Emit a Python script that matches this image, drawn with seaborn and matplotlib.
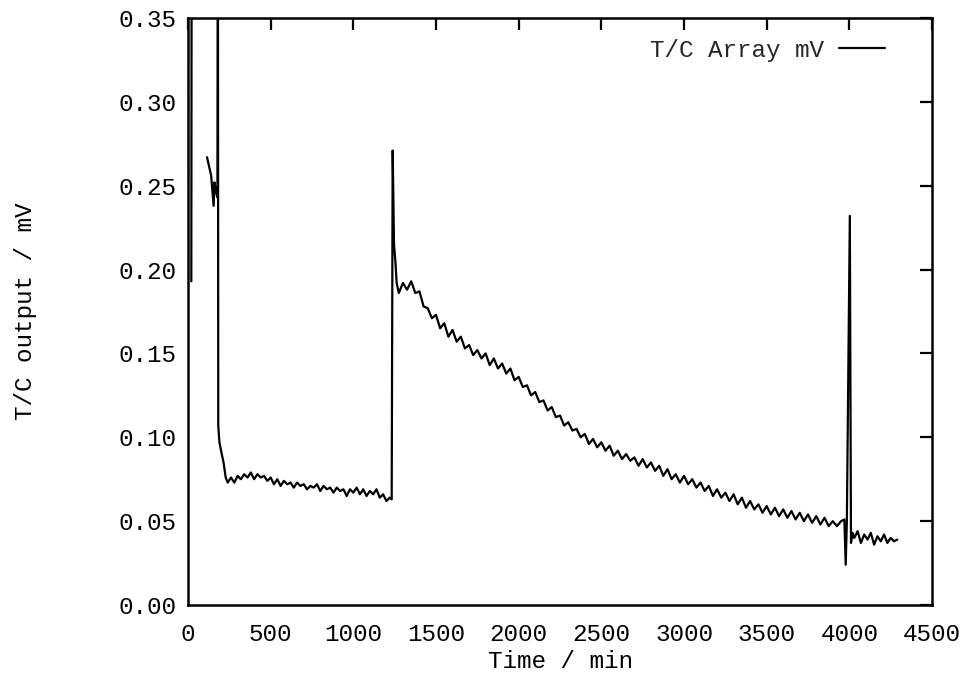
import numpy as np
import pandas as pd
import matplotlib
matplotlib.use("Agg")
import matplotlib.pyplot as plt
import seaborn as sns

sns.set_theme(style="white")
plt.rcParams['font.family'] = ['Liberation Mono', 'DejaVu Sans Mono']

# ---- data ----
# initial off-scale spike (overlapping the left axis)
t_start = [20, 22]
v_start = [0.193, 0.40]

# main record
t_main = [115, 140, 155, 160, 170, 178, 181, 183, 190, 200, 215, 228,
          240, 260, 280, 300, 320, 340, 360, 380, 400, 420, 440, 460, 480, 500,
          520, 540, 560, 580, 600, 620, 640, 660, 680, 700, 720, 740, 760, 780,
          800, 820, 840, 860, 880, 900, 920, 940, 960, 980, 1000, 1020, 1040,
          1060, 1080, 1100, 1120, 1140, 1160, 1180, 1200, 1220,
          1232, 1238, 1246, 1255, 1262,
          1275, 1300, 1325, 1350, 1375, 1400, 1425, 1450, 1475, 1500, 1525, 1550,
          1575, 1600, 1625, 1650, 1675, 1700, 1725, 1750, 1775, 1800, 1825, 1850,
          1875, 1900, 1925, 1950, 1975, 2000, 2025, 2050, 2075, 2100, 2125, 2150,
          2175, 2200, 2225, 2250, 2275, 2300, 2325, 2350, 2375, 2400, 2425, 2450,
          2475, 2500, 2525, 2550, 2575, 2600, 2625, 2650, 2675, 2700, 2725, 2750,
          2775, 2800, 2825, 2850, 2875, 2900, 2925, 2950, 2975, 3000, 3025, 3050,
          3075, 3100, 3125, 3150, 3175, 3200, 3225, 3250, 3275, 3300, 3325, 3350,
          3375, 3400, 3425, 3450, 3475, 3500, 3525, 3550, 3575, 3600, 3625, 3650,
          3675, 3700, 3725, 3750, 3775, 3800, 3825, 3850, 3875, 3900, 3925, 3950,
          3970, 3978, 3985, 4003, 4010, 4020,
          4030, 4050, 4070, 4090, 4110, 4130, 4150, 4170, 4190, 4210, 4230, 4250,
          4270, 4290]
v_main = [0.267, 0.256, 0.238, 0.252, 0.246, 0.243, 0.40, 0.107, 0.097, 0.092, 0.085, 0.076,
          0.073, 0.076, 0.073, 0.077, 0.075, 0.078, 0.076, 0.079, 0.075, 0.078, 0.076, 0.077, 0.074, 0.076,
          0.072, 0.075, 0.071, 0.074, 0.072, 0.073, 0.070, 0.073, 0.071, 0.072, 0.069, 0.071, 0.070, 0.072,
          0.068, 0.071, 0.069, 0.070, 0.067, 0.070, 0.068, 0.069, 0.065, 0.069, 0.067, 0.070, 0.066,
          0.069, 0.065, 0.068, 0.066, 0.069, 0.064, 0.066, 0.062, 0.064,
          0.063, 0.271, 0.215, 0.204, 0.192,
          0.186, 0.192, 0.188, 0.193, 0.186, 0.187, 0.178, 0.177, 0.171, 0.173, 0.165, 0.168,
          0.160, 0.164, 0.157, 0.160, 0.153, 0.155, 0.149, 0.152, 0.147, 0.150, 0.143, 0.147,
          0.141, 0.144, 0.138, 0.141, 0.134, 0.136, 0.130, 0.131, 0.125, 0.127, 0.121, 0.122,
          0.116, 0.118, 0.112, 0.113, 0.107, 0.109, 0.104, 0.105, 0.100, 0.102, 0.096, 0.099,
          0.094, 0.097, 0.092, 0.095, 0.089, 0.092, 0.087, 0.090, 0.086, 0.088, 0.083, 0.087,
          0.082, 0.085, 0.080, 0.083, 0.077, 0.081, 0.075, 0.078, 0.073, 0.077, 0.072, 0.075,
          0.070, 0.073, 0.068, 0.071, 0.065, 0.069, 0.064, 0.067, 0.062, 0.066, 0.060, 0.064,
          0.058, 0.062, 0.057, 0.060, 0.055, 0.059, 0.054, 0.058, 0.053, 0.057, 0.052, 0.056,
          0.051, 0.055, 0.050, 0.054, 0.049, 0.053, 0.048, 0.052, 0.047, 0.050, 0.047, 0.050,
          0.051, 0.024, 0.050, 0.232, 0.037, 0.043,
          0.040, 0.044, 0.037, 0.042, 0.039, 0.043, 0.036, 0.041, 0.038, 0.042, 0.037, 0.040,
          0.038, 0.039]

x_ticks = [0, 500, 1000, 1500, 2000, 2500, 3000, 3500, 4000, 4500]
y_ticks = [0.00, 0.05, 0.10, 0.15, 0.20, 0.25, 0.30, 0.35]
series_label = "T/C Array mV"

df_start = pd.DataFrame({"t": t_start, "v": v_start})
df_main = pd.DataFrame({"t": t_main, "v": v_main})

W, H = 963, 674
fig = plt.figure(figsize=(W / 100, H / 100), dpi=100)
ax = fig.add_axes([188 / W, 1 - 605 / H, (932 - 188) / W, (605 - 18) / H])

sns.lineplot(data=df_start, x="t", y="v", ax=ax, color="black", lw=1.6,
             estimator=None, sort=False)
sns.lineplot(data=df_main, x="t", y="v", ax=ax, color="black", lw=1.6,
             estimator=None, sort=False, label=series_label)

ax.set_xlim(0, 4500)
ax.set_ylim(0, 0.35)
ax.set_xticks(x_ticks)
ax.set_xticklabels([str(v) for v in x_ticks])
ax.set_yticks(y_ticks)
ax.set_yticklabels([f"{v:.2f}" for v in y_ticks])

fs = 17.5
ax.tick_params(direction="in", length=8.5, width=1.6, top=True, right=True,
               labelsize=fs, colors="black")
ax.tick_params(axis="y", pad=8)
ax.tick_params(axis="x", pad=13)
for s in ax.spines.values():
    s.set_color("black")
    s.set_linewidth(1.8)

ax.set_xlabel("Time / min", fontsize=fs, color="black")
ax.set_ylabel("T/C output / mV", fontsize=fs, color="black")
ax.xaxis.set_label_coords(0.5, -(650 - 605) / (605 - 18))
ax.yaxis.set_label_coords(-(188 - 37) / (932 - 188), 0.5)

leg = ax.legend(loc="center right", frameon=False, markerfirst=False,
                fontsize=fs, handlelength=1.9, handletextpad=0.6,
                borderpad=0, borderaxespad=0,
                bbox_to_anchor=(885 / W, 1 - 50 / H),
                bbox_transform=fig.transFigure)

fig.savefig("out.png", dpi=100, facecolor="white")
